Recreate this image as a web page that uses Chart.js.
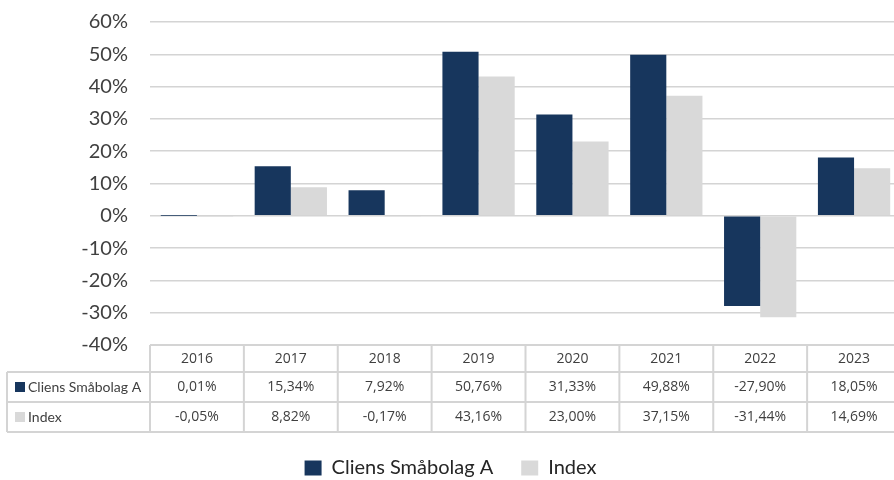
<!DOCTYPE html>
<html>
<head>
<meta charset="utf-8">
<script src="https://cdn.jsdelivr.net/npm/chart.js@4/dist/chart.umd.min.js"></script>
<style>
  html, body { margin: 0; padding: 0; background: #fff; overflow: hidden; }
  #wrap { width: 901px; height: 488px; }
</style>
</head>
<body>
<div id="wrap"><canvas id="chart"></canvas></div>
<script>
const years = ["2016", "2017", "2018", "2019", "2020", "2021", "2022", "2023"];
const cliens = [0.01, 15.34, 7.92, 50.76, 31.33, 49.88, -27.90, 18.05];
const index = [-0.05, 8.82, -0.17, 43.16, 23.00, 37.15, -31.44, 14.69];
const seriesNames = ["Cliens Småbolag A", "Index"];
const colors = ["#17365d", "#d9d9d9"];

const gridColor = "#d4d4d4";
const textColor = "#404040";

function pct(v) {
  return v.toFixed(2).replace(".", ",") + "%";
}

// data table under the plot, aligned to the x scale
const tablePlugin = {
  id: "dataTable",
  afterDraw(chart) {
    const ctx = chart.ctx;
    const x = chart.scales.x;
    const area = chart.chartArea;
    const half = (x.getPixelForValue(1) - x.getPixelForValue(0)) / 2;
    const left = 7;
    const y0 = area.bottom;
    const rows = [y0, y0 + 27, y0 + 57, y0 + 87];
    const right = x.getPixelForValue(years.length - 1) + half;

    ctx.save();
    ctx.strokeStyle = gridColor;
    ctx.lineWidth = 2;
    ctx.beginPath();
    ctx.moveTo(area.left, rows[0]); ctx.lineTo(right, rows[0]);
    for (let r = 1; r < rows.length; r++) {
      ctx.moveTo(left, rows[r]); ctx.lineTo(right, rows[r]);
    }
    ctx.moveTo(left, rows[1]); ctx.lineTo(left, rows[3]);
    for (let i = 0; i <= years.length; i++) {
      const px = i < years.length ? x.getPixelForValue(i) - half : right;
      ctx.moveTo(px, rows[0]); ctx.lineTo(px, rows[3]);
    }
    ctx.stroke();

    ctx.fillStyle = textColor;
    ctx.textAlign = "center";
    ctx.textBaseline = "middle";
    ctx.font = "14px 'Open Sans'";
    years.forEach((yr, i) => {
      const cx = x.getPixelForValue(i);
      ctx.fillText(yr, cx, (rows[0] + rows[1]) / 2 + 1);
      ctx.fillText(pct(cliens[i]), cx, (rows[1] + rows[2]) / 2);
      ctx.fillText(pct(index[i]), cx, (rows[2] + rows[3]) / 2);
    });

    ctx.textAlign = "left";
    ctx.font = "14px Lato";
    [cliens, index].forEach((s, k) => {
      const cy = (rows[k + 1] + rows[k + 2]) / 2;
      ctx.fillStyle = colors[k];
      ctx.fillRect(15, cy - 5, 10, 10);
      ctx.fillStyle = textColor;
      ctx.fillText(seriesNames[k], 28, cy);
    });
    ctx.restore();
  }
};

new Chart(document.getElementById("chart"), {
  type: "bar",
  data: {
    labels: years,
    datasets: [
      { label: seriesNames[0], data: cliens, backgroundColor: colors[0] },
      { label: seriesNames[1], data: index, backgroundColor: colors[1] }
    ]
  },
  options: {
    responsive: true,
    maintainAspectRatio: false,
    animation: false,
    layout: { padding: { top: 22, left: 0, right: 0, bottom: 0 } },
    datasets: { bar: { categoryPercentage: 0.77, barPercentage: 1 } },
    scales: {
      x: {
        grid: { display: false },
        border: { display: false },
        ticks: { display: false },
        afterFit: s => { s.height = 85; }
      },
      y: {
        min: -40,
        max: 60,
        ticks: {
          stepSize: 10,
          padding: 22,
          color: textColor,
          font: { family: "Lato", size: 20 },
          callback: v => v + "%"
        },
        grid: { color: gridColor, lineWidth: 1.5, drawTicks: false },
        border: { display: false },
        afterFit: s => {
          s.width = 150;
          s.paddingTop = 0;
          s.paddingBottom = 0;
        }
      }
    },
    plugins: {
      tooltip: { enabled: false },
      legend: {
        position: "bottom",
        labels: {
          color: "#262626",
          font: { family: "Lato", size: 20 },
          boxWidth: 17,
          boxHeight: 15,
          padding: 28
        }
      }
    }
  },
  plugins: [tablePlugin]
});
</script>
</body>
</html>
